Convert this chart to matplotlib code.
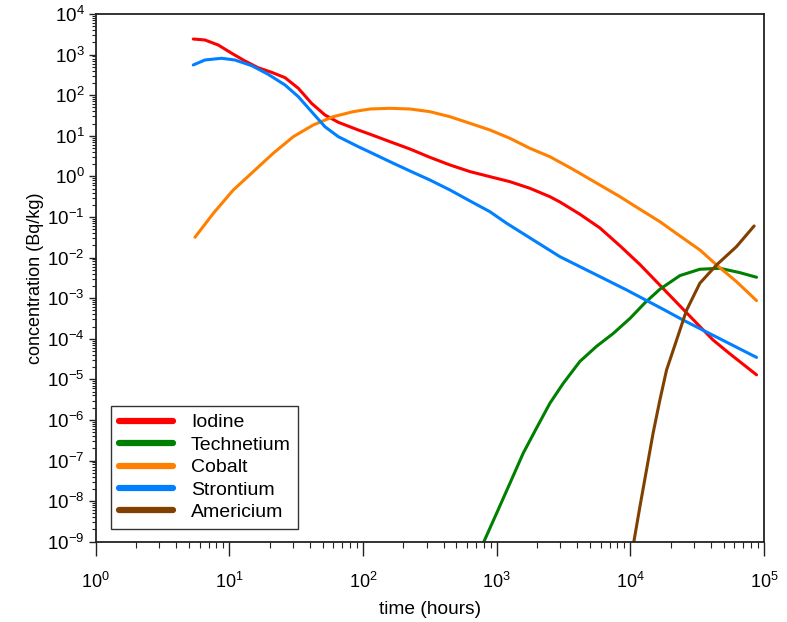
import matplotlib
matplotlib.use('Agg')
import matplotlib.pyplot as plt
from matplotlib.ticker import LogLocator, NullFormatter

plt.rcParams['font.family'] = ['Liberation Sans', 'DejaVu Sans']
plt.rcParams['mathtext.fontset'] = 'custom'
plt.rcParams['mathtext.rm'] = 'Liberation Sans'
plt.rcParams['mathtext.default'] = 'regular'
plt.rcParams['axes.unicode_minus'] = False

# ── data (hours, Bq/kg) ──
iodine_t = [5.37, 6.56, 8.26, 10.4, 13.1, 16.4, 20.7, 26.1, 32.8, 41.2, 51.9, 65.3,
            92.0, 113, 159, 224, 316, 447, 631, 889, 1256, 1770, 2500, 2972, 4188,
            5916, 8356, 11780, 16630, 24830, 33110, 41590, 54950, 87900]
iodine_c = [2420, 2290, 1720, 1080, 695, 475, 366, 270, 148, 63.1, 32.5, 21.5,
            13.9, 10.9, 7.16, 4.73, 2.95, 1.91, 1.31, 0.984, 0.740, 0.509, 0.316,
            0.234, 0.117, 0.0537, 0.0195, 0.00676, 0.00209, 5.33e-4, 2.0e-4, 9.3e-5,
            4.37e-5, 1.29e-5]

strontium_t = [5.37, 6.56, 8.75, 11.0, 14.7, 19.5, 26.1, 32.8, 41.2, 51.9, 65.3, 92.0,
               113, 159, 224, 316, 447, 631, 889, 1186, 2972, 5272, 9376, 17580,
               24830, 87900]
strontium_c = [555, 736, 811, 736, 533, 327, 178, 91.8, 39.3, 16.7, 9.51, 5.40,
               3.93, 2.30, 1.36, 0.815, 0.462, 0.248, 0.135, 0.0700, 0.0105, 0.00410,
               0.00159, 5.33e-4, 2.88e-4, 3.47e-5]

cobalt_t = [5.53, 7.59, 10.7, 15.1, 21.3, 30.1, 42.5, 59.8, 84.5, 113, 159, 224,
            316, 447, 631, 889, 1256, 1770, 2500, 3532, 4188, 5916, 8356, 11780,
            16630, 23500, 33110, 44160, 62230, 87900]
cobalt_c = [0.0316, 0.123, 0.462, 1.31, 3.71, 9.51, 18.5, 29.5, 39.3, 45.7, 47.5, 45.7,
            39.3, 29.5, 20.3, 13.9, 8.67, 4.92, 3.05, 1.64, 1.19, 0.614, 0.316, 0.155,
            0.0766, 0.0340, 0.0154, 0.00658, 0.00255, 8.69e-4]

technetium_t = [802, 998, 1256, 1578, 1986, 2500, 3141, 4188, 5585, 7447, 9931, 12820,
                16630, 23500, 33110, 46770, 65920, 87900]
technetium_c = [1.0e-9, 5.0e-9, 2.75e-8, 1.51e-7, 6.3e-7, 2.57e-6, 7.9e-6, 2.75e-5,
                6.5e-5, 1.35e-4, 3.16e-4, 7.6e-4, 1.66e-3, 3.6e-3, 5.15e-3, 5.44e-3,
                4.25e-3, 3.27e-3]

americium_t = [10620, 11780, 13210, 14790, 16630, 18660, 22180, 26300, 33110, 44160,
               62230, 84330]
americium_c = [1e-9, 7.2e-9, 5.9e-8, 4.7e-7, 3.1e-6, 1.7e-5, 9.3e-5, 5.0e-4, 2.33e-3,
               6.58e-3, 0.0186, 0.060]

series = [
    ("Iodine", iodine_t, iodine_c, "#ff0000"),
    ("Technetium", technetium_t, technetium_c, "#008000"),
    ("Cobalt", cobalt_t, cobalt_c, "#ff8000"),
    ("Strontium", strontium_t, strontium_c, "#0080ff"),
    ("Americium", americium_t, americium_c, "#804000"),
]

fig = plt.figure(figsize=(7.87, 6.22), dpi=100)
ax = fig.add_axes([0.1216, 0.1291, 0.8492, 0.8484])

for name, t, c, col in series:
    ax.plot(t, c, color=col, lw=2.2, label=name, solid_capstyle='round',
            solid_joinstyle='round')

ax.set_xscale('log')
ax.set_yscale('log')
ax.set_xlim(1, 1e5)
ax.set_ylim(1e-9, 1e4)

ax.xaxis.set_major_locator(LogLocator(base=10, numticks=10))
ax.yaxis.set_major_locator(LogLocator(base=10, numticks=20))
ax.xaxis.set_minor_locator(LogLocator(base=10, subs=range(2, 10), numticks=50))
ax.yaxis.set_minor_locator(LogLocator(base=10, subs=range(2, 10), numticks=50))
ax.xaxis.set_minor_formatter(NullFormatter())
ax.yaxis.set_minor_formatter(NullFormatter())

ax.tick_params(axis='both', which='both', direction='out', top=False, right=False,
               color='#222222')
ax.tick_params(axis='x', which='major', length=10, width=1, pad=12, labelsize=13)
ax.tick_params(axis='x', which='minor', length=4, width=0.8)
ax.tick_params(axis='y', which='major', length=5, width=1, pad=3, labelsize=13.5)
ax.tick_params(axis='y', which='minor', length=3, width=0.8)
for s in ax.spines.values():
    s.set_linewidth(1.3)
    s.set_color('#222222')

ax.set_xlabel("time (hours)", fontsize=13.8, labelpad=6)
ax.set_ylabel("concentration (Bq/kg)", fontsize=13, labelpad=2)

leg = ax.legend(loc='lower left', bbox_to_anchor=(0.023, 0.024), borderaxespad=0,
                fontsize=14, frameon=True, fancybox=False, handlelength=2.8,
                handletextpad=0.9, labelspacing=0.25, borderpad=0.4)
leg.get_frame().set_edgecolor('black')
leg.get_frame().set_linewidth(1.0)
for line in leg.get_lines():
    line.set_linewidth(4.5)

fig.savefig("out.png", dpi=100)
